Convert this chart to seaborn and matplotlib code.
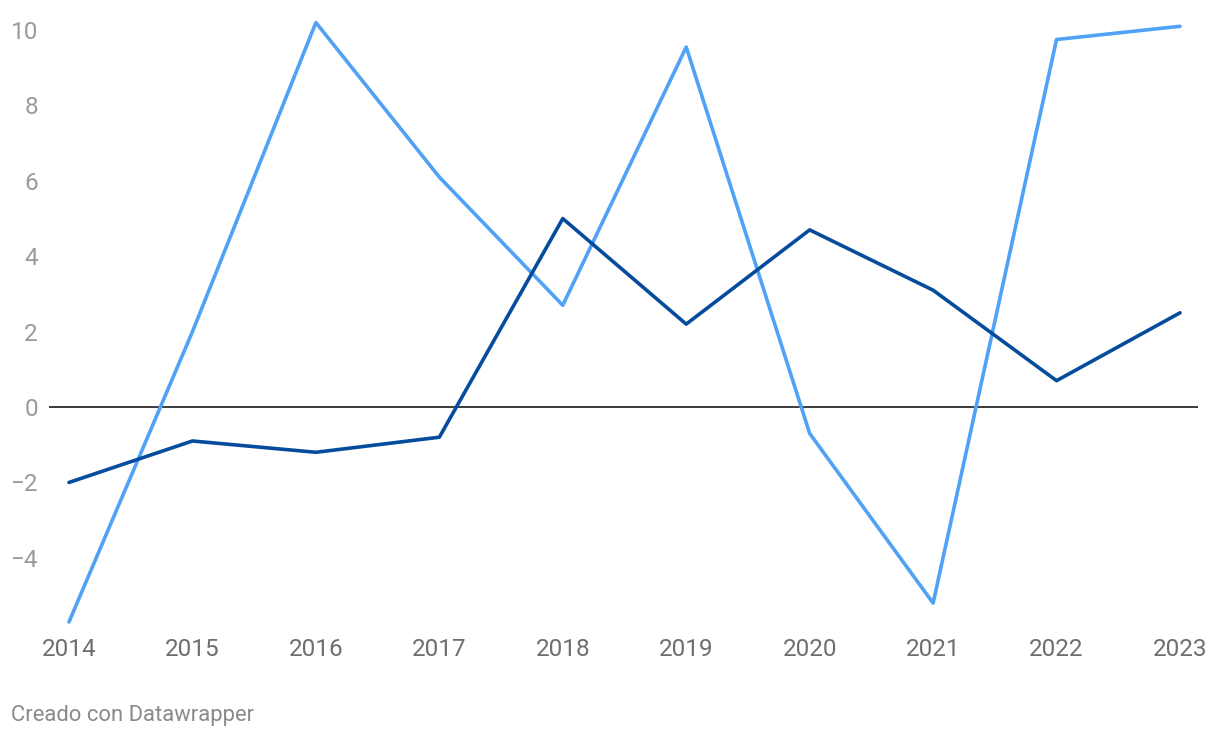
import matplotlib
matplotlib.use("Agg")
import matplotlib.pyplot as plt
import seaborn as sns
import pandas as pd

years = [2014, 2015, 2016, 2017, 2018, 2019, 2020, 2021, 2022, 2023]
serie_clara = [-5.7, 2.0, 10.2, 6.1, 2.7, 9.55, -0.7, -5.2, 9.75, 10.1]
serie_oscura = [-2.0, -0.9, -1.2, -0.8, 5.0, 2.2, 4.7, 3.1, 0.7, 2.5]
y_ticks = [-4, -2, 0, 2, 4, 6, 8, 10]

df = pd.DataFrame({
    "year": years * 2,
    "value": serie_clara + serie_oscura,
    "serie": ["clara"] * len(years) + ["oscura"] * len(years),
})

sns.set_style("white")
plt.rcParams["font.family"] = ["Roboto", "DejaVu Sans"]

fig = plt.figure(figsize=(12.2, 7.38), dpi=100)
ax = fig.add_axes([49 / 1220, 1 - 625.7 / 738, (1198 - 49) / 1220, (625.7 - 15) / 738])

ax.axhline(0, color="#1a1a1a", lw=1.2, zorder=1)
sns.lineplot(data=df, x="year", y="value", hue="serie",
             palette={"clara": "#50a2f6", "oscura": "#054c9c"},
             linewidth=2.6, legend=False, ax=ax, zorder=3)

ax.set_xlim(2014 - 20 / 123.4, 2023 + 18 / 123.4)
ax.set_ylim(-5.8, 10.4)
ax.set_xticks(years)
ax.set_xticklabels([str(y) for y in years])
ax.set_yticks(y_ticks)
ax.set_yticklabels([("\u2212" + str(-t)) if t < 0 else str(t) for t in y_ticks])
ax.set_xlabel("")
ax.set_ylabel("")
for s in ax.spines.values():
    s.set_visible(False)
ax.tick_params(axis="x", length=0, pad=9, labelsize=17.5, labelcolor="#6e6e6e")
ax.tick_params(axis="y", length=0, pad=8, labelsize=17.5, labelcolor="#9a9a9a")
ax.grid(False)

fig.text(11 / 1220, 1 - 716 / 738, "Creado con Datawrapper", fontsize=15.8,
         color="#8a8a8a", va="center", ha="left")

fig.savefig("out.png", dpi=100)
